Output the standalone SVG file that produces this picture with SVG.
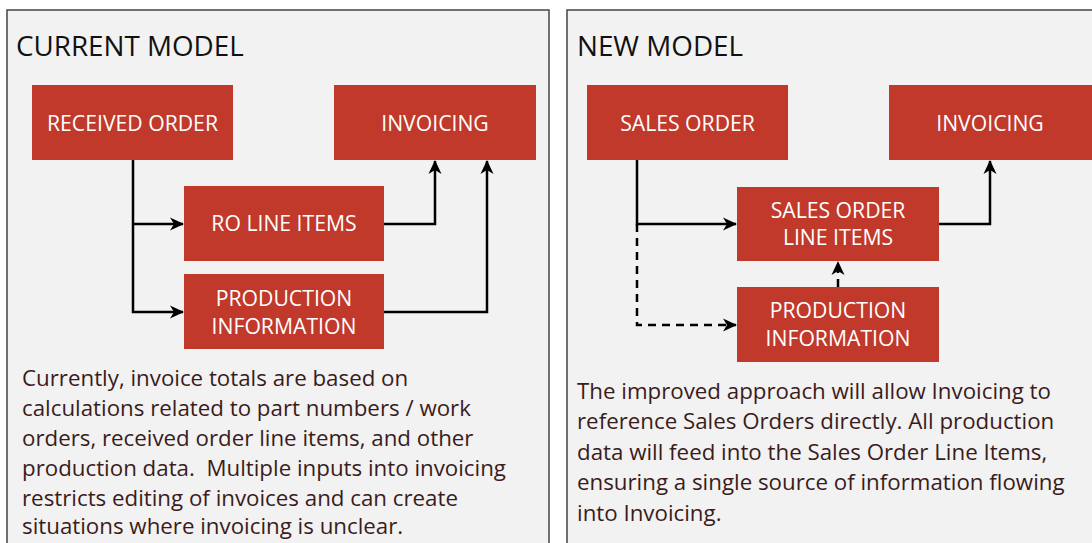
<svg xmlns="http://www.w3.org/2000/svg" width="1092" height="543" viewBox="0 0 1092 543">
<defs>
<style>
.panel{fill:#f2f2f2;stroke:#444;stroke-width:1.5}
.node{fill:#c0392b}
.ntext{font-family:"Open Sans","Noto Sans",sans-serif;font-size:21.2px;fill:#ffffff;text-anchor:middle}
.title{font-family:"Open Sans","Noto Sans",sans-serif;font-size:27.8px;fill:#111}
.body{font-family:"Open Sans","Noto Sans",sans-serif;font-size:22.3px;fill:#3a1c1c}
.edge{fill:none;stroke:#000;stroke-width:2.5}
.dash{stroke-dasharray:8 6}
</style>
<marker id="ah" viewBox="0 0 14 14" refX="13" refY="7" markerWidth="14" markerHeight="14" markerUnits="userSpaceOnUse" orient="auto">
<path d="M0,0.5 L14,7 L0,13.5 L4,7 Z" fill="#000"/>
</marker>
</defs>
<rect width="1092" height="543" fill="#ffffff"/>
<rect class="panel" x="7" y="10" width="542" height="545"/>
<rect class="panel" x="567" y="10" width="540" height="545"/>
<text class="title" x="16" y="56">CURRENT MODEL</text>
<text class="title" x="577" y="56">NEW MODEL</text>

<g id="connectors">
<path class="edge" d="M133,160 V312 H183" marker-end="url(#ah)"/>
<path class="edge" d="M133,224 H183" marker-end="url(#ah)"/>
<path class="edge" d="M384,224 H435 V161" marker-end="url(#ah)"/>
<path class="edge" d="M384,312 H487 V161" marker-end="url(#ah)"/>
<path class="edge" d="M637,160 V224 H736" marker-end="url(#ah)"/>
<path class="edge dash" d="M637,224 V325 H736" marker-end="url(#ah)"/>
<path class="edge dash" d="M838,287 V262" marker-end="url(#ah)"/>
<path class="edge" d="M939,224 H990 V161" marker-end="url(#ah)"/>
</g>

<g id="received-order"><rect class="node" x="32" y="85" width="201" height="75"/><text class="ntext" x="132.5" y="131">RECEIVED ORDER</text></g>
<g id="invoicing-current"><rect class="node" x="334" y="85" width="202" height="75"/><text class="ntext" x="435" y="131">INVOICING</text></g>
<g id="ro-line-items"><rect class="node" x="184" y="186" width="200" height="75"/><text class="ntext" x="284" y="231">RO LINE ITEMS</text></g>
<g id="production-current"><rect class="node" x="184" y="274" width="200" height="75"/><text class="ntext" x="284" y="306">PRODUCTION</text><text class="ntext" x="284" y="334">INFORMATION</text></g>

<g id="sales-order"><rect class="node" x="587" y="85" width="201" height="75"/><text class="ntext" x="687.5" y="131">SALES ORDER</text></g>
<g id="invoicing-new"><rect class="node" x="889" y="85" width="203" height="75"/><text class="ntext" x="990" y="131">INVOICING</text></g>
<g id="sales-order-line-items"><rect class="node" x="737" y="187" width="202" height="74"/><text class="ntext" x="838" y="218">SALES ORDER</text><text class="ntext" x="838" y="245">LINE ITEMS</text></g>
<g id="production-new"><rect class="node" x="737" y="287" width="202" height="75"/><text class="ntext" x="838" y="318">PRODUCTION</text><text class="ntext" x="838" y="346">INFORMATION</text></g>

<g id="desc-current">
<text class="body" x="22" y="386">Currently, invoice totals are based on</text>
<text class="body" x="22" y="416">calculations related to part numbers / work</text>
<text class="body" x="22" y="446">orders, received order line items, and other</text>
<text class="body" x="22" y="476" xml:space="preserve">production data.  Multiple inputs into invoicing</text>
<text class="body" x="22" y="506">restricts editing of invoices and can create</text>
<text class="body" x="22" y="534">situations where invoicing is unclear.</text>
</g>
<g id="desc-new">
<text class="body" x="577" y="399">The improved approach will allow Invoicing to</text>
<text class="body" x="577" y="429">reference Sales Orders directly. All production</text>
<text class="body" x="577" y="460">data will feed into the Sales Order Line Items,</text>
<text class="body" x="577" y="490">ensuring a single source of information flowing</text>
<text class="body" x="577" y="521">into Invoicing.</text>
</g>
</svg>
